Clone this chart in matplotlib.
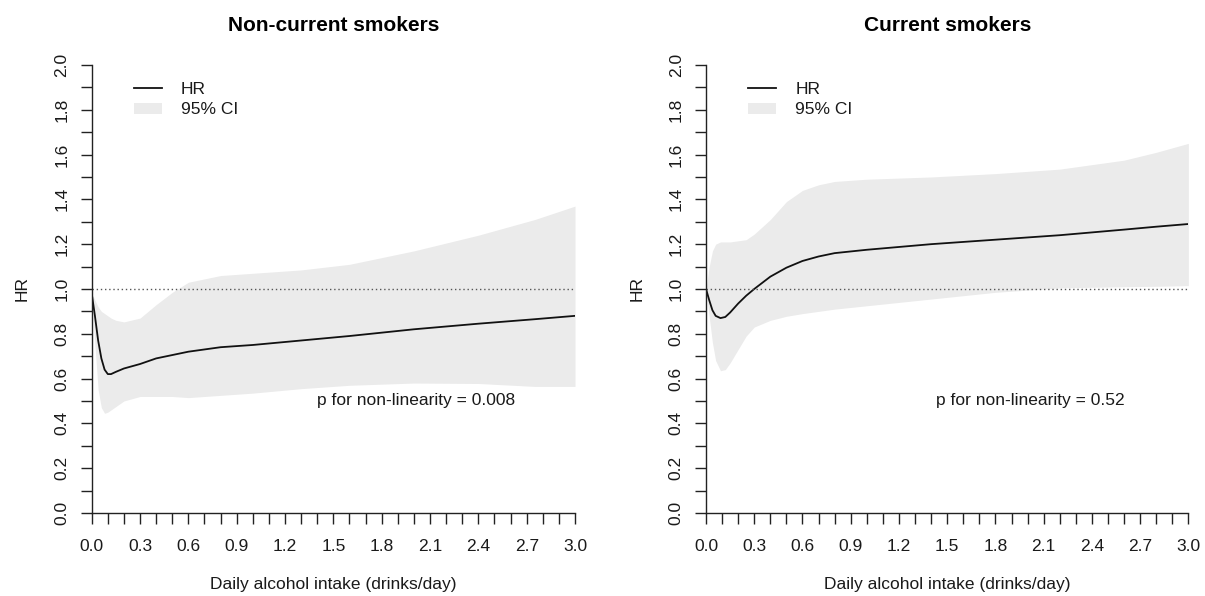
import numpy as np
import matplotlib
matplotlib.use("Agg")
import matplotlib.pyplot as plt
from matplotlib.lines import Line2D
from matplotlib.patches import Patch
from matplotlib.ticker import MultipleLocator

plt.rcParams['font.family'] = ['Liberation Sans', 'DejaVu Sans']

# ---------------- data ----------------
titles = ["Non-current smokers", "Current smokers"]
p_texts = ["p for non-linearity = 0.008", "p for non-linearity = 0.52"]

x_left = [0, 0.02, 0.04, 0.06, 0.08, 0.10, 0.12, 0.15, 0.2, 0.3, 0.4, 0.5, 0.6,
          0.8, 1.0, 1.3, 1.6, 2.0, 2.4, 2.75, 3.0]
hr_left = [0.98, 0.88, 0.77, 0.69, 0.64, 0.62, 0.62, 0.63, 0.645, 0.665, 0.69, 0.705,
           0.72, 0.74, 0.75, 0.77, 0.79, 0.82, 0.845, 0.865, 0.88]
up_left = [0.98, 0.95, 0.92, 0.90, 0.89, 0.88, 0.87, 0.86, 0.853, 0.87, 0.93, 0.985,
           1.03, 1.06, 1.07, 1.085, 1.11, 1.17, 1.24, 1.31, 1.37]
lo_left = [0.98, 0.75, 0.55, 0.47, 0.445, 0.45, 0.46, 0.475, 0.50, 0.52, 0.52, 0.52,
           0.515, 0.525, 0.535, 0.555, 0.57, 0.58, 0.578, 0.565, 0.565]

x_right = [0, 0.02, 0.04, 0.06, 0.09, 0.12, 0.15, 0.2, 0.25, 0.3, 0.4, 0.5, 0.6,
           0.7, 0.8, 1.0, 1.4, 1.8, 2.2, 2.6, 2.8, 3.0]
hr_right = [1.0, 0.95, 0.905, 0.88, 0.87, 0.875, 0.895, 0.935, 0.97, 1.0, 1.055, 1.095,
            1.125, 1.145, 1.16, 1.175, 1.20, 1.22, 1.24, 1.265, 1.278, 1.29]
up_right = [1.0, 1.10, 1.17, 1.20, 1.21, 1.21, 1.21, 1.215, 1.22, 1.245, 1.31, 1.39,
            1.44, 1.465, 1.48, 1.49, 1.50, 1.515, 1.535, 1.575, 1.61, 1.65]
lo_right = [1.0, 0.875, 0.76, 0.68, 0.635, 0.64, 0.67, 0.73, 0.79, 0.83, 0.86, 0.878,
            0.89, 0.90, 0.91, 0.925, 0.955, 0.985, 1.005, 1.01, 1.012, 1.015]

x_ticks = [0.0, 0.3, 0.6, 0.9, 1.2, 1.5, 1.8, 2.1, 2.4, 2.7, 3.0]
x_tick_labels = ["0.0", "0.3", "0.6", "0.9", "1.2", "1.5", "1.8", "2.1", "2.4", "2.7", "3.0"]
y_ticks = [0.0, 0.2, 0.4, 0.6, 0.8, 1.0, 1.2, 1.4, 1.6, 1.8, 2.0]
y_tick_labels = ["0.0", "0.2", "0.4", "0.6", "0.8", "1.0", "1.2", "1.4", "1.6", "1.8", "2.0"]
ref_value = 1.0
p_pos = [(1.40, 0.50), (1.43, 0.50)]

panels = [
    (x_left, hr_left, lo_left, up_left),
    (x_right, hr_right, lo_right, up_right),
]

# ---------------- figure ----------------
fig = plt.figure(figsize=(12.05, 5.96), dpi=100)
axes_rects = [[0.0761, 0.1393, 0.4011, 0.7517], [0.5859, 0.1393, 0.4003, 0.7517]]

FS = 12.5
fill_c = '#ebebeb'
text_c = '#1a1a1a'

for i, (x, hr, lo, up) in enumerate(panels):
    ax = fig.add_axes(axes_rects[i])
    ax.fill_between(x, lo, up, color=fill_c, linewidth=0)
    ax.plot(x, hr, color='#111111', lw=1.3)
    ax.axhline(ref_value, color='#555555', lw=1.0, ls=(0, (1, 2)))
    ax.set_xlim(0, 3)
    ax.set_ylim(0, 2)
    for s in ['top', 'right']:
        ax.spines[s].set_visible(False)
    for s in ['left', 'bottom']:
        ax.spines[s].set_color('#222222')
        ax.spines[s].set_linewidth(1.0)
    ax.set_xticks(x_ticks)
    ax.set_xticklabels(x_tick_labels)
    ax.set_yticks(y_ticks)
    ax.set_yticklabels(y_tick_labels, rotation=90, va='center')
    ax.xaxis.set_minor_locator(MultipleLocator(0.1))
    ax.yaxis.set_minor_locator(MultipleLocator(0.1))
    ax.tick_params(axis='both', which='both', length=8, width=1.0, color='#222222',
                   direction='out')
    ax.tick_params(axis='x', which='major', labelsize=FS, pad=11, labelcolor=text_c)
    ax.tick_params(axis='y', which='major', labelsize=FS, pad=8, labelcolor=text_c)
    ax.set_xlabel("Daily alcohol intake (drinks/day)", fontsize=FS, color=text_c)
    ax.xaxis.set_label_coords(0.5, -0.143)
    ax.set_ylabel("HR", fontsize=FS, color=text_c)
    ax.yaxis.set_label_coords(-0.128, 0.5)
    ax.text(0.5, 1.089, titles[i], transform=ax.transAxes, ha='center', va='center',
            fontsize=15, fontweight='bold', color='black')
    ax.text(p_pos[i][0], p_pos[i][1], p_texts[i], ha='left', va='center',
            fontsize=FS, color=text_c)
    handles = [Line2D([], [], color='#111111', lw=1.3),
               Patch(facecolor=fill_c, edgecolor='none')]
    ax.legend(handles, ["HR", "95% CI"], loc='upper left',
              bbox_to_anchor=(0.088, 0.962), frameon=False, fontsize=FS,
              borderpad=0, borderaxespad=0, handlelength=1.6, handleheight=0.6,
              handletextpad=1.1, labelspacing=0.3, labelcolor=text_c)

fig.savefig("out.png", dpi=100, facecolor='white')
